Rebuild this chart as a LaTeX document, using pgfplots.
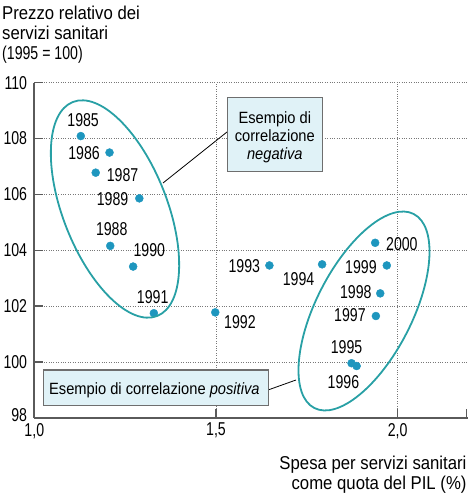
\documentclass[border=0pt]{standalone}
\usepackage{pgfplots}
\pgfplotsset{compat=1.18}
\usepackage{fontspec}
\setmainfont{Liberation Sans}[FakeStretch=0.9]
\newfontfamily\digitfont{Liberation Sans}[FakeStretch=0.76]
\usetikzlibrary{calc}
\definecolor{dotc}{RGB}{30,150,190}
\definecolor{ellc}{RGB}{40,160,165}
\definecolor{boxfill}{RGB}{224,242,247}
\definecolor{boxline}{RGB}{110,110,110}
\definecolor{axisgray}{RGB}{90,90,90}
\definecolor{gridgray}{RGB}{120,120,120}
\newcommand\tf{\fontsize{18.6}{20}\selectfont}
\newcommand\df{\digitfont\fontsize{18.6}{20}\selectfont}
\newcommand\bxf{\fontsize{16.3}{18}\selectfont}
\begin{document}
\begin{tikzpicture}
\begin{axis}[
  scale only axis, width=433.2pt, height=335.3pt,
  xmin=1, xmax=2.1921, ymin=98, ymax=110,
  axis x line=bottom, axis y line=left,
  axis line style={-, line width=1.8pt, draw=axisgray},
  xtick={1,1.5,2}, xticklabels={{1,0},{1,5},{2,0}},
  ytick={98,100,102,104,106,108,110},
  yticklabels={\raisebox{5.5pt}{98},100,102,104,106,108,110},
  extra x ticks={2.19}, extra x tick labels={}, extra x tick style={grid=none},
  tick align=inside, major tick length=9pt,
  tick style={solid, line width=1.5pt, draw=axisgray},
  xmajorgrids, ymajorgrids,
  major grid style={dotted, draw=gridgray, line width=0.9pt},
  tick label style={font=\df, inner sep=0pt},
  xticklabel style={yshift=-5pt},
  yticklabel style={xshift=-7pt},
  clip=false,
]
\addplot[only marks, mark=*, mark size=4pt, color=dotc,
  point meta=explicit symbolic,
  visualization depends on={value \thisrow{dx}\as\dx},
  visualization depends on={value \thisrow{dy}\as\dy},
  nodes near coords,
  every node near coord/.append style={anchor=center, xshift=\dx pt, yshift=\dy pt, font=\df, text=black, inner sep=0pt},
] table[x=x, y=y, meta=label] {
x y label dx dy
1.128 108.09 1985 2.3 16
1.207 107.50 1986 -25.5 -1
1.169 106.78 1987 26.8 -2.8
1.289 105.86 1989 -26.8 -0.4
1.209 104.16 1988 1.5 16.3
1.272 103.42 1990 16.2 16.7
1.329 101.75 1991 -1.2 16
1.498 101.78 1992 24.7 -9.4
1.647 103.46 1993 -25.1 -0.7
1.792 103.50 1994 -23.5 -15
1.873 99.96 1995 -5 16.6
1.887 99.86 1996 -13.2 -15.8
1.940 101.65 1997 -26 0.5
1.952 102.46 1998 -24.5 1.1
1.970 103.46 1999 -25.9 -1.4
1.938 104.27 2000 26.7 -1
};
\coordinate (SW) at (rel axis cs:0,0);
\coordinate (NE) at (rel axis cs:1,1);
\end{axis}
\coordinate (O) at ($(SW)+(-34.3pt,418pt)$);
\begin{scope}[shift={(O)}]
  % ellipses
  \draw[ellc, line width=1.8pt, rotate around={21.5:(115pt,-209pt)}] (115pt,-209pt) ellipse [x radius=52pt, y radius=115pt];
  \draw[ellc, line width=1.8pt, rotate around={-27.1:(364pt,-311pt)}] (364pt,-311pt) ellipse [x radius=48pt, y radius=109pt];
  % pointer lines
  \draw[black, line width=0.8pt] (227pt,-132pt) -- (163pt,-183pt);
  \draw[black, line width=0.8pt] (268pt,-390pt) -- (296pt,-380pt);
  % boxes
  \draw[boxline, fill=boxfill, line width=1.4pt] (227.3pt,-97.3pt) rectangle (322.3pt,-171.7pt);
  \node[anchor=base, inner sep=0pt, font=\bxf] at (274.8pt,-123.3pt) {Esempio di};
  \node[anchor=base, inner sep=0pt, font=\bxf] at (274.8pt,-141.3pt) {correlazione};
  \node[anchor=base, inner sep=0pt, font=\bxf] at (274.8pt,-159.3pt) {\itshape negativa};
  \draw[boxline, fill=boxfill, line width=1.4pt] (43.3pt,-370pt) rectangle (268.3pt,-405.7pt);
  \node[anchor=base west, inner sep=0pt, font=\bxf] at (49pt,-395pt) {Esempio di correlazione \textit{positiva}};
  % titles
  \node[anchor=base west, inner sep=0pt, font=\tf] at (2pt,-19.3pt) {Prezzo relativo dei};
  \node[anchor=base west, inner sep=0pt, font=\tf] at (2pt,-39.3pt) {servizi sanitari};
  \node[anchor=base west, inner sep=0pt, font=\df] at (2pt,-59.3pt) {(1995 = 100)};
  \node[anchor=base east, inner sep=0pt, font=\tf] at (466.7pt,-469.3pt) {Spesa per servizi sanitari};
  \node[anchor=base east, inner sep=0pt, font=\tf] at (466.7pt,-489.5pt) {come quota del PIL (\%)};
\end{scope}
\pgfresetboundingbox
\path[use as bounding box] (O) rectangle ($(O)+(468pt,-494pt)$);
\end{tikzpicture}
\end{document}
